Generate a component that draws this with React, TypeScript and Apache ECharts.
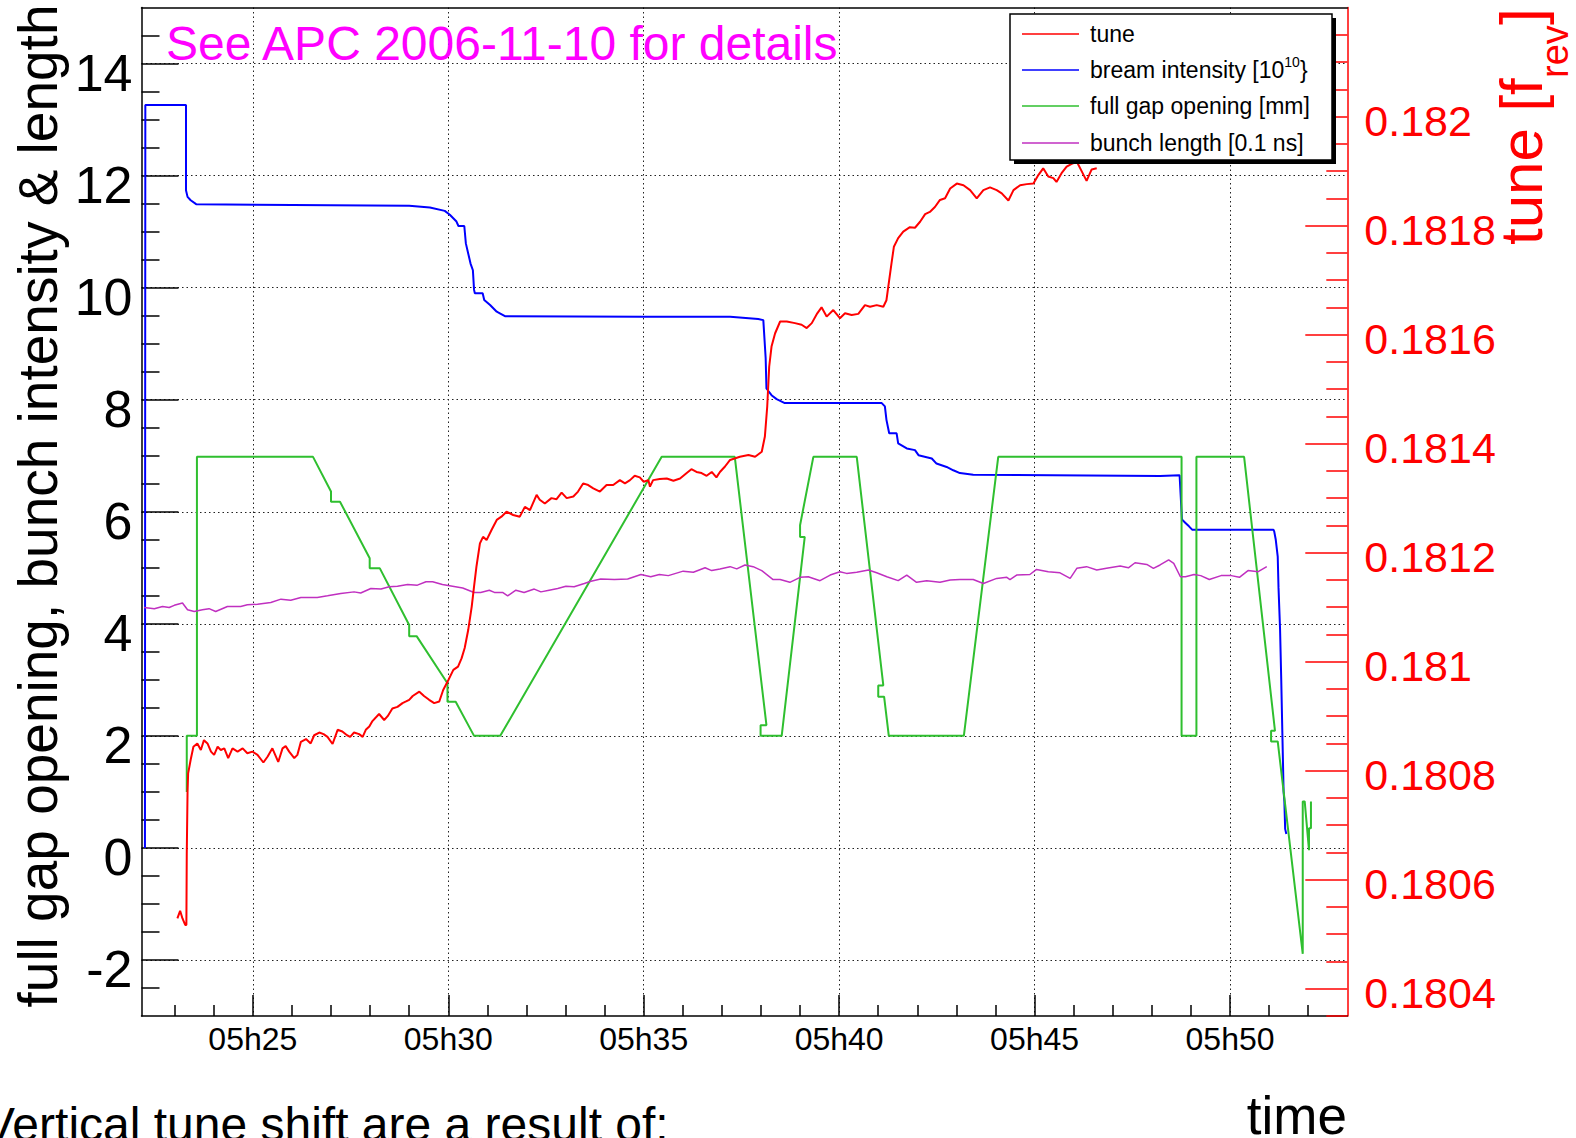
import { useEffect, useRef } from 'react';
import * as echarts from 'echarts';

const FONT = '"Liberation Sans", Arial, Helvetica, sans-serif';

// ---- axis ticks / labels ----
const xMajorTicks = [25, 30, 35, 40, 45, 50]; // minutes after 05h00
const xMinorTicks = [23, 24, 26, 27, 28, 29, 31, 32, 33, 34, 36, 37, 38, 39, 41, 42, 43, 44, 46, 47, 48, 49, 51, 52];
const leftMajorTicks = [-2, 0, 2, 4, 6, 8, 10, 12, 14];
const leftMinorTicks = [-2.5, -1.5, -1, -0.5, 0.5, 1, 1.5, 2.5, 3, 3.5, 4.5, 5, 5.5, 6.5, 7, 7.5, 8.5, 9, 9.5, 10.5, 11, 11.5, 12.5, 13, 13.5, 14.5];
const rightMajorTicks = [0.1804, 0.1806, 0.1808, 0.181, 0.1812, 0.1814, 0.1816, 0.1818, 0.182];
const rightMinorTicks = [0.18035, 0.18045, 0.1805, 0.18055, 0.18065, 0.1807, 0.18075, 0.18085, 0.1809, 0.18095, 0.18105, 0.1811, 0.18115, 0.18125, 0.1813, 0.18135, 0.18145, 0.1815, 0.18155, 0.18165, 0.1817, 0.18175, 0.18185, 0.1819, 0.18195, 0.18205, 0.1821, 0.18215];

// ---- series: [minute, value] ----
const tunePoints: [number, number][] = [
  [23.07, 0.180529], [23.14, 0.180543], [23.2, 0.180529], [23.27, 0.180517], [23.3, 0.180517], [23.31, 0.180648],
  [23.33, 0.180761], [23.345, 0.180795], [23.41, 0.18082], [23.48, 0.180844], [23.58, 0.18085], [23.67, 0.180838],
  [23.75, 0.180856], [23.84, 0.18085], [23.93, 0.180835], [24.01, 0.180829], [24.1, 0.180844], [24.18, 0.180838],
  [24.27, 0.180841], [24.37, 0.180823], [24.48, 0.180841], [24.61, 0.180835], [24.74, 0.180841], [24.86, 0.180832],
  [24.99, 0.180835], [25.12, 0.180829], [25.27, 0.180815], [25.38, 0.180826], [25.5, 0.180841], [25.65, 0.180816],
  [25.76, 0.180841], [25.84, 0.180845], [25.93, 0.180835], [26.06, 0.180823], [26.14, 0.180829], [26.23, 0.180853],
  [26.36, 0.180858], [26.48, 0.18085], [26.57, 0.180865], [26.7, 0.18087], [26.81, 0.180867], [26.91, 0.180862],
  [27.04, 0.180849], [27.17, 0.180875], [27.29, 0.180872], [27.41, 0.180865], [27.49, 0.180862], [27.59, 0.18087],
  [27.72, 0.180867], [27.81, 0.180862], [27.89, 0.180875], [27.98, 0.180881], [28.06, 0.180891], [28.23, 0.180904],
  [28.36, 0.180893], [28.45, 0.1809], [28.57, 0.180914], [28.7, 0.180917], [28.83, 0.180924], [28.92, 0.180927],
  [29.0, 0.18093], [29.09, 0.180937], [29.26, 0.180945], [29.38, 0.180937], [29.51, 0.18093], [29.64, 0.180924],
  [29.77, 0.180927], [29.87, 0.180948], [30.0, 0.180966], [30.13, 0.180985], [30.25, 0.180991], [30.34, 0.181006],
  [30.42, 0.181025], [30.51, 0.181058], [30.6, 0.181101], [30.66, 0.181138], [30.72, 0.181174], [30.81, 0.181217],
  [30.89, 0.181229], [30.98, 0.181223], [31.11, 0.181242], [31.24, 0.18126], [31.36, 0.181266], [31.49, 0.181275],
  [31.66, 0.181269], [31.83, 0.181266], [31.96, 0.181284], [32.09, 0.181278], [32.26, 0.181306], [32.34, 0.181297],
  [32.47, 0.18129], [32.64, 0.1813], [32.77, 0.181298], [32.9, 0.18131], [33.03, 0.1813], [33.2, 0.181303],
  [33.32, 0.181312], [33.45, 0.181327], [33.58, 0.181324], [33.71, 0.181318], [33.88, 0.181312], [34.05, 0.181324],
  [34.22, 0.181324], [34.39, 0.181333], [34.52, 0.181327], [34.65, 0.181333], [34.77, 0.181341], [34.9, 0.181338],
  [35.0, 0.18133], [35.12, 0.181333], [35.16, 0.181321], [35.24, 0.181333], [35.41, 0.181335], [35.59, 0.181336],
  [35.76, 0.181332], [35.93, 0.181336], [36.1, 0.181346], [36.22, 0.181353], [36.35, 0.181348], [36.48, 0.181346],
  [36.61, 0.181341], [36.74, 0.181348], [36.86, 0.181338], [36.95, 0.181348], [37.08, 0.181358], [37.21, 0.18137],
  [37.46, 0.181376], [37.68, 0.181379], [37.85, 0.181376], [38.02, 0.181385], [38.1, 0.181413], [38.16, 0.181468],
  [38.21, 0.181541], [38.27, 0.181578], [38.36, 0.181602], [38.49, 0.181624], [38.66, 0.181624], [38.87, 0.181621],
  [39.04, 0.181618], [39.17, 0.181612], [39.3, 0.181621], [39.44, 0.181639], [39.55, 0.18165], [39.68, 0.181633],
  [39.85, 0.181645], [40.02, 0.18163], [40.15, 0.181639], [40.32, 0.181636], [40.49, 0.181638], [40.66, 0.181654],
  [40.79, 0.181651], [40.96, 0.181654], [41.13, 0.181651], [41.21, 0.181663], [41.28, 0.1817], [41.34, 0.181731],
  [41.4, 0.181761], [41.51, 0.181777], [41.64, 0.181789], [41.81, 0.181797], [41.94, 0.181796], [42.07, 0.181807],
  [42.2, 0.181821], [42.32, 0.181825], [42.45, 0.181834], [42.58, 0.181847], [42.71, 0.18185], [42.84, 0.181868],
  [43.01, 0.181877], [43.18, 0.181874], [43.35, 0.181865], [43.52, 0.18185], [43.69, 0.181865], [43.86, 0.18187],
  [44.03, 0.181865], [44.16, 0.181859], [44.33, 0.181846], [44.46, 0.181865], [44.63, 0.181874], [44.8, 0.181876],
  [44.97, 0.181877], [45.1, 0.181893], [45.22, 0.181905], [45.35, 0.18189], [45.48, 0.181887], [45.56, 0.18188],
  [45.69, 0.181896], [45.82, 0.181908], [45.95, 0.181913], [46.08, 0.181917], [46.21, 0.181899], [46.33, 0.181882],
  [46.46, 0.181903], [46.59, 0.181905],
];

const intensityPoints: [number, number][] = [
  [22.24, 0], [22.25, 13.26], [23.29, 13.26], [23.29, 11.74], [23.33, 11.62], [23.41, 11.56], [23.55, 11.49],
  [27.0, 11.47], [29.0, 11.46], [29.53, 11.43], [29.91, 11.37], [30.04, 11.3], [30.21, 11.18], [30.26, 11.1],
  [30.41, 11.1], [30.45, 10.79], [30.51, 10.61], [30.57, 10.43], [30.63, 10.31], [30.66, 9.96], [30.68, 9.9],
  [30.88, 9.9], [30.92, 9.78], [31.07, 9.69], [31.24, 9.57], [31.32, 9.54], [31.45, 9.49], [35.0, 9.48],
  [37.21, 9.48], [37.93, 9.44], [38.06, 9.42], [38.12, 8.74], [38.14, 8.2], [38.27, 8.08], [38.4, 8.01],
  [38.61, 7.94], [41.09, 7.94], [41.17, 7.88], [41.21, 7.64], [41.28, 7.4], [41.47, 7.4], [41.51, 7.22],
  [41.73, 7.13], [41.94, 7.1], [42.03, 7.01], [42.37, 6.95], [42.49, 6.86], [42.75, 6.8], [42.92, 6.74],
  [43.09, 6.69], [43.43, 6.66], [48.21, 6.64], [48.71, 6.65], [48.77, 5.86], [48.86, 5.8], [48.95, 5.74],
  [49.03, 5.68], [51.11, 5.68], [51.13, 5.65], [51.17, 5.5], [51.22, 5.2], [51.24, 4.65], [51.28, 3.9],
  [51.31, 3.0], [51.34, 2.0], [51.37, 1.01], [51.39, 0.83], [51.41, 0.34], [51.44, 0.25],
];

const gapPoints: [number, number][] = [
  [23.31, 1.0], [23.31, 2.0], [23.57, 2.0], [23.57, 6.98], [26.54, 6.98], [27.0, 6.36], [27.0, 6.18],
  [27.23, 6.18], [27.99, 5.17], [27.99, 4.99], [28.25, 4.99], [29.0, 3.98], [29.0, 3.78], [29.19, 3.78],
  [29.98, 2.94], [29.98, 2.61], [30.19, 2.61], [30.66, 2.0], [31.33, 2.0], [35.46, 6.98], [37.33, 6.98],
  [38.14, 2.19], [37.99, 2.19], [37.99, 2.0], [38.53, 2.0], [39.12, 5.55], [39.0, 5.55], [39.0, 5.76],
  [39.34, 6.98], [40.45, 6.98], [41.13, 2.9], [41.0, 2.9], [41.0, 2.7], [41.15, 2.7], [41.27, 2.0],
  [43.19, 2.0], [44.07, 6.98], [48.76, 6.98], [48.76, 2.0], [49.14, 2.0], [49.14, 6.98], [50.36, 6.98],
  [51.15, 2.09], [51.05, 2.09], [51.05, 1.9], [51.22, 1.9], [51.86, -1.89], [51.86, 0.83], [51.91, 0.83],
  [52.02, -0.04], [52.02, 0.35], [52.07, 0.35], [52.07, 0.83],
];

const bunchLengthPoints: [number, number][] = [
  [22.22, 4.29], [22.48, 4.27], [22.69, 4.31], [22.86, 4.29], [22.99, 4.33], [23.2, 4.37], [23.33, 4.25],
  [23.5, 4.22], [23.71, 4.25], [23.88, 4.27], [24.05, 4.22], [24.35, 4.31], [24.69, 4.31], [24.86, 4.34],
  [25.12, 4.35], [25.46, 4.38], [25.72, 4.44], [25.97, 4.42], [26.23, 4.47], [26.65, 4.47], [26.91, 4.5],
  [27.25, 4.54], [27.59, 4.57], [27.76, 4.55], [28.02, 4.63], [28.28, 4.62], [28.49, 4.66], [28.7, 4.67],
  [28.96, 4.7], [29.21, 4.69], [29.43, 4.75], [29.6, 4.75], [29.85, 4.7], [30.11, 4.67], [30.37, 4.64],
  [30.66, 4.56], [30.83, 4.56], [31.05, 4.6], [31.18, 4.56], [31.39, 4.56], [31.52, 4.5], [31.73, 4.6],
  [31.94, 4.56], [32.2, 4.62], [32.37, 4.57], [32.58, 4.6], [32.8, 4.63], [33.01, 4.67], [33.22, 4.66],
  [33.48, 4.72], [33.65, 4.76], [33.9, 4.8], [34.25, 4.79], [34.59, 4.8], [34.93, 4.88], [35.18, 4.84],
  [35.4, 4.88], [35.63, 4.86], [36.01, 4.94], [36.27, 4.92], [36.57, 5.0], [36.74, 4.95], [36.95, 4.98],
  [37.21, 5.02], [37.38, 4.98], [37.59, 5.05], [37.8, 5.02], [38.02, 4.95], [38.31, 4.79], [38.49, 4.79],
  [38.74, 4.74], [39.0, 4.83], [39.21, 4.84], [39.51, 4.77], [39.77, 4.87], [40.02, 4.93], [40.19, 4.9],
  [40.45, 4.92], [40.75, 4.96], [40.96, 4.91], [41.22, 4.84], [41.51, 4.77], [41.73, 4.87], [41.98, 4.74],
  [42.24, 4.77], [42.58, 4.74], [42.84, 4.78], [43.09, 4.79], [43.43, 4.79], [43.69, 4.72], [44.03, 4.81],
  [44.29, 4.83], [44.37, 4.79], [44.54, 4.87], [44.88, 4.88], [45.05, 4.97], [45.35, 4.93], [45.65, 4.91],
  [45.91, 4.81], [46.08, 4.99], [46.33, 5.02], [46.59, 4.96], [46.84, 4.99], [47.19, 5.03], [47.4, 5.0],
  [47.57, 5.09], [47.87, 5.06], [48.04, 4.99], [48.21, 5.05], [48.43, 5.14], [48.56, 5.08], [48.73, 4.84],
  [48.86, 4.84], [49.08, 4.88], [49.25, 4.86], [49.47, 4.79], [49.77, 4.86], [50.03, 4.86], [50.24, 4.83],
  [50.46, 4.95], [50.72, 4.93], [50.94, 5.02],
];

const seriesNames = ['tune', 'bream intensity [10', 'full gap opening [mm]', 'bunch length [0.1 ns]'];
const seriesColors = ['#ff0000', '#0000ff', '#2fbf2f', '#c030c0'];

export default function App() {
  const ref = useRef<HTMLDivElement>(null);
  useEffect(() => {
    if (!ref.current) return;
    const chart = echarts.init(ref.current, undefined, { renderer: 'svg' });
    const xMin = 22.152;
    const xMax = 53.0;
    const dotted = { color: '#222', width: 1, type: [1.5, 3] as number[] };
    const xBase = {
      type: 'value', min: xMin, max: xMax, gridIndex: 0,
      splitLine: { show: false }, axisLabel: { show: false }, axisTick: { show: false },
      axisLine: { show: false, onZero: false },
    };
    const legendRows = [34, 70, 106, 143];
    const legendItems: any[] = [];
    legendRows.forEach((ry, i) => {
      legendItems.push({
        type: 'line', z: 102, shape: { x1: 1022, y1: ry, x2: 1079, y2: ry },
        style: { stroke: seriesColors[i], lineWidth: 1.5 },
      });
    });
    const legendText = (txt: string, ry: number, extra: any = {}) => ({
      type: 'text', z: 102, x: 1090, y: ry,
      style: {
        text: txt, fill: '#000', fontSize: 23, fontFamily: FONT,
        textAlign: 'left', align: 'left', textVerticalAlign: 'middle', verticalAlign: 'middle', ...extra,
      },
    });
    legendItems.push(legendText('tune', legendRows[0]));
    legendItems.push(legendText('bream intensity [10{s|10}}', legendRows[1], {
      lineHeight: 30,
      rich: { s: { fontSize: 14, lineHeight: 14, verticalAlign: 'top', fontFamily: FONT, fill: '#000' } },
    }));
    legendItems.push(legendText(seriesNames[2], legendRows[2]));
    legendItems.push(legendText(seriesNames[3], legendRows[3]));

    const option: any = {
      animation: false,
      backgroundColor: '#ffffff',
      textStyle: { fontFamily: FONT },
      grid: { left: 141.5, top: 7.5, width: 1205.8, height: 1008.5, containLabel: false },
      xAxis: [
        {
          ...xBase,
          position: 'bottom',
          axisLine: { show: true, onZero: false, lineStyle: { color: '#000', width: 1.5 } },
          axisTick: { show: true, inside: true, length: 21, customValues: xMajorTicks, lineStyle: { color: '#000', width: 1.5 } },
          axisLabel: {
            show: true, customValues: xMajorTicks, fontSize: 32, color: '#000', margin: 7, lineHeight: 32,
            fontFamily: FONT, formatter: (v: number) => '05h' + v,
          },
          splitLine: { show: true, lineStyle: dotted },
        },
        {
          ...xBase,
          position: 'bottom',
          axisTick: { show: true, inside: true, length: 11, customValues: xMinorTicks, lineStyle: { color: '#000', width: 1.5 } },
        },
        {
          ...xBase,
          position: 'top',
          axisLine: { show: true, onZero: false, lineStyle: { color: '#000', width: 1.5 } },
        },
      ],
      yAxis: [
        {
          type: 'value', min: -3, max: 15, position: 'left', gridIndex: 0,
          axisLine: { show: true, onZero: false, lineStyle: { color: '#000', width: 1.5 } },
          axisTick: { show: true, inside: true, length: 37, customValues: leftMajorTicks, lineStyle: { color: '#000', width: 1.5 } },
          axisLabel: {
            show: true, customValues: leftMajorTicks, fontSize: 52, color: '#000', margin: 9, fontFamily: FONT,
            formatter: (v: number) => '{a|' + v + '}',
            rich: { a: { fontSize: 52, fontFamily: FONT, color: '#000', padding: [18, 0, 0, 0] } },
          },
          splitLine: { show: true, lineStyle: dotted },
        },
        {
          type: 'value', min: -3, max: 15, position: 'left', offset: 0, gridIndex: 0,
          axisLine: { show: false, onZero: false },
          axisTick: { show: true, inside: true, length: 18, customValues: leftMinorTicks, lineStyle: { color: '#000', width: 1.5 } },
          axisLabel: { show: false },
          splitLine: { show: false },
        },
        {
          type: 'value', min: 0.18035, max: 0.1822, position: 'right', offset: 0, gridIndex: 0,
          axisLine: { show: true, onZero: false, lineStyle: { color: '#ff0000', width: 1.5 } },
          axisTick: { show: true, inside: true, length: 42, customValues: rightMajorTicks, lineStyle: { color: '#ff0000', width: 1.5 } },
          axisLabel: {
            show: true, customValues: rightMajorTicks, fontSize: 43, color: '#ff0000', margin: 17, fontFamily: FONT,
            formatter: (v: number) => '{a|' + String(+v.toFixed(5)) + '}',
            rich: { a: { fontSize: 43, fontFamily: FONT, color: '#ff0000', padding: [8, 0, 0, 0] } },
          },
          splitLine: { show: false },
        },
        {
          type: 'value', min: 0.18035, max: 0.1822, position: 'right', offset: 0, gridIndex: 0,
          axisLine: { show: false, onZero: false },
          axisTick: { show: true, inside: true, length: 21, customValues: rightMinorTicks, lineStyle: { color: '#ff0000', width: 1.5 } },
          axisLabel: { show: false },
          splitLine: { show: false },
        },
      ],
      series: [
        {
          type: 'line', name: seriesNames[1], xAxisIndex: 0, yAxisIndex: 0, data: intensityPoints,
          symbol: 'none', showSymbol: false, z: 3, lineStyle: { color: seriesColors[1], width: 2 }, itemStyle: { color: seriesColors[1] },
        },
        {
          type: 'line', name: seriesNames[2], xAxisIndex: 0, yAxisIndex: 0, data: gapPoints,
          symbol: 'none', showSymbol: false, z: 3, lineStyle: { color: seriesColors[2], width: 2 }, itemStyle: { color: seriesColors[2] },
        },
        {
          type: 'line', name: seriesNames[3], xAxisIndex: 0, yAxisIndex: 0, data: bunchLengthPoints,
          symbol: 'none', showSymbol: false, z: 3, lineStyle: { color: seriesColors[3], width: 1.5 }, itemStyle: { color: seriesColors[3] },
        },
        {
          type: 'line', name: seriesNames[0], xAxisIndex: 0, yAxisIndex: 2, data: tunePoints,
          symbol: 'none', showSymbol: false, z: 4, lineStyle: { color: seriesColors[0], width: 2 }, itemStyle: { color: seriesColors[0] },
        },
      ],
      graphic: [
        {
          type: 'text', x: 166, y: 43, z: 50,
          style: { text: 'See APC 2006-11-10 for details', fill: '#ff00ff', fontSize: 48, fontFamily: FONT, textAlign: 'left', align: 'left', textVerticalAlign: 'middle', verticalAlign: 'middle' },
        },
        {
          type: 'text', x: 38, y: 506, rotation: Math.PI / 2, z: 50,
          style: { text: 'full gap opening, bunch intensity & length', fill: '#000', fontSize: 55, fontFamily: FONT, textAlign: 'center', align: 'center', textVerticalAlign: 'middle', verticalAlign: 'middle' },
        },
        {
          type: 'text', x: 1521, y: 245, rotation: Math.PI / 2, z: 50,
          style: { text: 'tune [f', fill: '#ff0000', fontSize: 60, fontFamily: FONT, textAlign: 'left', align: 'left', textVerticalAlign: 'middle', verticalAlign: 'middle' },
        },
        {
          type: 'text', x: 1555, y: 78, rotation: Math.PI / 2, z: 50,
          style: { text: 'rev', fill: '#ff0000', fontSize: 38, fontFamily: FONT, textAlign: 'left', align: 'left', textVerticalAlign: 'middle', verticalAlign: 'middle' },
        },
        {
          type: 'text', x: 1521, y: 25, rotation: Math.PI / 2, z: 50,
          style: { text: ']', fill: '#ff0000', fontSize: 60, fontFamily: FONT, textAlign: 'left', align: 'left', textVerticalAlign: 'middle', verticalAlign: 'middle' },
        },
        {
          type: 'text', x: 1347, y: 1115, z: 50,
          style: { text: 'time', fill: '#000', fontSize: 53, fontFamily: FONT, textAlign: 'right', align: 'right', textVerticalAlign: 'middle', verticalAlign: 'middle' },
        },
        {
          type: 'text', x: -17, y: 1124, z: 50,
          style: { text: 'Vertical tune shift are a result of:', fill: '#000', fontSize: 48, fontFamily: FONT, textAlign: 'left', align: 'left', textVerticalAlign: 'middle', verticalAlign: 'middle' },
        },
        {
          type: 'rect', z: 100, shape: { x: 1014, y: 18, width: 322, height: 146 },
          style: { fill: '#000' },
        },
        {
          type: 'rect', z: 101, shape: { x: 1010, y: 14, width: 322, height: 146 },
          style: { fill: '#fff', stroke: '#000', lineWidth: 1.5 },
        },
        ...legendItems,
      ],
    };
    chart.setOption(option);
    return () => chart.dispose();
  }, []);
  return (
    <div
      ref={ref}
      style={{ position: 'fixed', left: 0, top: 0, width: 1576, height: 1138, background: '#fff', overflow: 'hidden' }}
    />
  );
}
